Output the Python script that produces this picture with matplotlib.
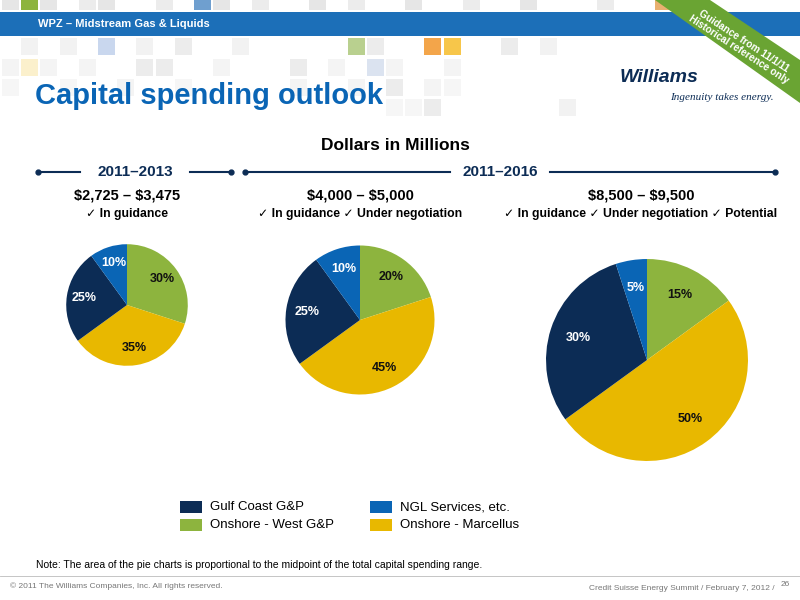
import matplotlib
matplotlib.use("Agg")
import matplotlib.pyplot as plt
from matplotlib.patches import Rectangle, Polygon

plt.rcParams['font.family'] = ['Liberation Sans', 'DejaVu Sans']
plt.rcParams['text.parse_math'] = False

categories = ["Onshore - West G&P", "Onshore - Marcellus", "Gulf Coast G&P", "NGL Services, etc."]
colors = ["#8db43e", "#e8b800", "#0c2c55", "#0a65b5"]
label_colors = ["#111111", "#111111", "white", "white"]
pie_2011_2013 = [30, 35, 25, 10]
pie_2011_2016a = [20, 45, 25, 10]
pie_2011_2016b = [15, 50, 30, 5]
ranges = ["$2,725 – $3,475", "$4,000 – $5,000", "$8,500 – $9,500"]
notes = ["✓ In guidance", "✓ In guidance ✓ Under negotiation", "✓ In guidance ✓ Under negotiation ✓ Potential"]

fig = plt.figure(figsize=(8, 6), dpi=100)
bg = fig.add_axes([0, 0, 1, 1])
bg.set_xlim(0, 800); bg.set_ylim(600, 0); bg.axis('off')

# decorative mosaic
cells = [(0,0,'#e6e6e6'),(1,0,'#8db43e'),(2,0,'#e6e6e6'),(4,0,'#ececec'),(5,0,'#e6e6e6'),(8,0,'#ececec'),
         (10,0,'#6f9fcf'),(11,0,'#e6e6e6'),(13,0,'#ececec'),(16,0,'#e6e6e6'),(18,0,'#ececec'),(21,0,'#e6e6e6'),
         (24,0,'#ececec'),(27,0,'#e6e6e6'),(31,0,'#ececec'),(34,0,'#e8b070'),(36,0,'#ececec'),
         (1,1,'#f2f2f2'),(3,1,'#f2f2f2'),(5,1,'#c9d7ee'),(7,1,'#f2f2f2'),(9,1,'#ececec'),(12,1,'#f2f2f2'),
         (18,1,'#b9d08f'),(19,1,'#ececec'),(22,1,'#f3a54a'),(23,1,'#f7c64a'),(26,1,'#ececec'),(28,1,'#f2f2f2'),
         (0,2,'#f4f4f4'),(1,2,'#fbf0cc'),(2,2,'#f4f4f4'),(4,2,'#f4f4f4'),(7,2,'#ececec'),(8,2,'#ececec'),
         (11,2,'#f4f4f4'),(15,2,'#ececec'),(17,2,'#f4f4f4'),(19,2,'#dbe3f0'),(20,2,'#f4f4f4'),(23,2,'#f4f4f4'),
         (0,3,'#f6f6f6'),(3,3,'#f6f6f6'),(6,3,'#f4f4f4'),(9,3,'#f6f6f6'),(15,3,'#f4f4f4'),(18,3,'#f4f4f4'),
         (20,3,'#ececec'),(22,3,'#f4f4f4'),(23,3,'#f6f6f6'),
         (20,4,'#f6f6f6'),(21,4,'#f6f6f6'),(22,4,'#ececec'),(29,4,'#f2f2f2')]
for cx, cy, c in cells:
    y = [-8, 38, 59, 79, 99][cy]
    h = 17 if cy > 0 else 18
    bg.add_patch(Rectangle((2 + cx * 19.2, y), 17, h, color=c, lw=0, zorder=0))

bg.add_patch(Rectangle((0, 12), 800, 24, color='#1c6fb8', lw=0, zorder=1))
bg.text(38, 24, "WPZ – Midstream Gas & Liquids", color='white', fontsize=8, fontweight='bold', va='center', zorder=2)
bg.text(35, 96, "Capital spending outlook", color='#0a65b5', fontsize=21, fontweight='bold', va='center', zorder=2)
# ribbon
bg.add_patch(Polygon([[655, 0], [710, 0], [800, 60], [800, 103]], closed=True, color='#6aa433', lw=0, zorder=3))
bg.text(741, 45, "Guidance from 11/1/11\nHistorical reference only", rotation=-33, color='white', fontsize=7.2,
        fontweight='bold', ha='center', va='center', rotation_mode='anchor', linespacing=1.0, zorder=4)
bg.text(620, 77, "Williams", color='#0c2c55', fontsize=14, fontweight='bold', fontstyle='italic', va='center', zorder=4)
bg.text(670, 98, "Ingenuity takes energy.", color='#0c2c55', fontsize=8, fontstyle='italic', family='Liberation Serif',
        va='center', zorder=4)

bg.text(395, 146, "Dollars in Millions", fontsize=12.5, fontweight='bold', ha='center', va='center')
for x0, x1, xa, xb, xt, lab in [(38, 231, 80, 190, 135, "2011–2013"), (245, 775, 450, 550, 500, "2011–2016")]:
    bg.plot([x0, xa], [172, 172], color='#0c2c55', lw=1.5)
    bg.plot([xb, x1], [172, 172], color='#0c2c55', lw=1.5)
    bg.plot([x0, x1], [172, 172], 'o', color='#0c2c55', ms=3.5)
    bg.text(xt, 172, lab, fontsize=11, fontweight='bold', color='#0c2c55', ha='center', va='center')
for x, r, n in zip([127, 360, 641], ranges, notes):
    bg.text(x, 196, r, fontsize=10.5, fontweight='bold', ha='center', va='center')
    bg.text(x, 214, n, fontsize=8.8, fontweight='bold', ha='center', va='center')

# pies: (cx, cy, radius) in pixels
for vals, (cx, cy, r) in zip([pie_2011_2013, pie_2011_2016a, pie_2011_2016b],
                             [(127, 305, 62), (360, 320, 76), (647, 360, 103)]):
    ax = fig.add_axes([(cx - r) / 800, 1 - (cy + r) / 600, 2 * r / 800, 2 * r / 600])
    wedges, texts, autotexts = ax.pie(vals, colors=colors, startangle=90, counterclock=False, radius=1,
           autopct='%d%%', pctdistance=0.72,
           textprops=dict(fontsize=9, fontweight='bold'))
    for t, c in zip(autotexts, label_colors):
        t.set_color(c)
    ax.set_aspect('equal'); ax.set_xlim(-1.02, 1.02); ax.set_ylim(-1.02, 1.02)

# legend
leg = [(180, 507, 2), (370, 507, 3), (180, 525, 0), (370, 525, 1)]
for x, y, i in leg:
    bg.add_patch(Rectangle((x, y - 6), 22, 12, color=colors[i], lw=0))
    bg.text(x + 30, y, categories[i], fontsize=9.5, va='center')

bg.text(36, 565, "Note: The area of the pie charts is proportional to the midpoint of the total capital spending range.",
        fontsize=7.5, va='center')
bg.plot([0, 800], [576, 576], color='#bbbbbb', lw=0.6)
bg.text(10, 586, "© 2011 The Williams Companies, Inc. All rights reserved.", fontsize=6, color='#777777', va='center')
bg.text(775, 588, "Credit Suisse Energy Summit / February 7, 2012 /", fontsize=6, color='#777777', va='center', ha='right')
bg.text(790, 585, "26", fontsize=6, color='#777777', va='center', ha='right')

fig.savefig("out.png", dpi=100)
